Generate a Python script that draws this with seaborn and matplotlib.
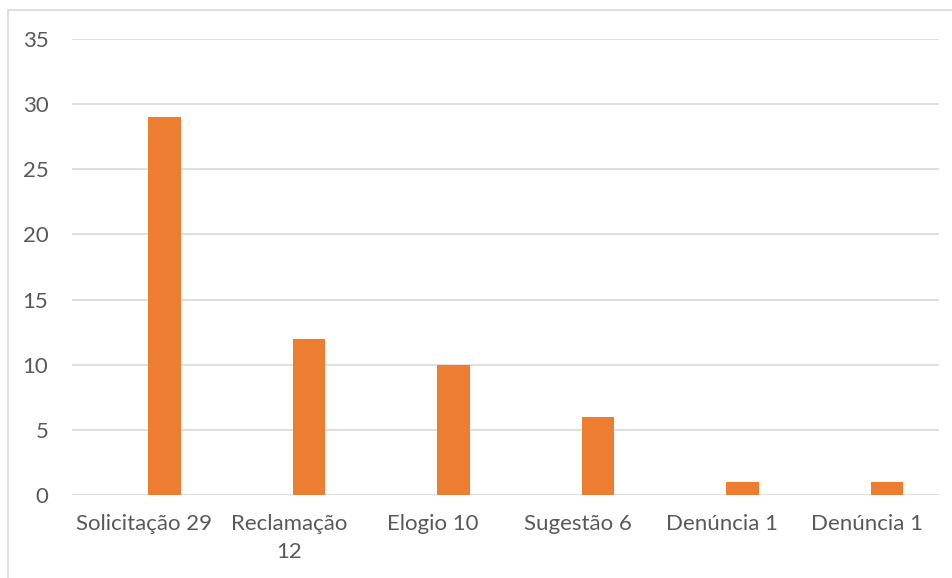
import pandas as pd
import matplotlib.pyplot as plt
import matplotlib.patches as mpatches
import seaborn as sns

# dados
categorias = ['Solicitação 29', 'Reclamação 12', 'Elogio 10', 'Sugestão 6', 'Denúncia 1', 'Denúncia 1 ']
rotulos = ['Solicitação 29', 'Reclamação\n12', 'Elogio 10', 'Sugestão 6', 'Denúncia 1', 'Denúncia 1']
quantidade = [29, 12, 10, 6, 1, 1]

# série vazia (o Excel reserva o espaço dela ao lado da barra)
df = pd.DataFrame({'categoria': categorias, 'valor': quantidade, 'serie': 'Quantidade'})
vazia = pd.DataFrame({'categoria': categorias, 'valor': [0] * len(categorias), 'serie': 'vazia'})
df = pd.concat([vazia, df], ignore_index=True)

sns.set_theme(style='white')
plt.rcParams['font.family'] = ['Lato', 'DejaVu Sans']

fig = plt.figure(figsize=(9.53, 5.78), dpi=100)
ax = fig.add_axes([72 / 953, 1 - 495 / 578, 867 / 953, 456 / 578])

sns.barplot(data=df, x='categoria', y='valor', hue='serie', hue_order=['vazia', 'Quantidade'],
            order=categorias, palette={'vazia': '#ffffff', 'Quantidade': '#ED7D31'},
            saturation=1, width=0.556, gap=0.187, legend=False, ax=ax, zorder=3,
            linewidth=0)

ax.set_ylim(0, 35)
ax.set_yticks(range(0, 36, 5))
ax.set_xlim(-0.5, len(categorias) - 0.5)
ax.set_xticks(range(len(categorias)))
ax.set_xticklabels(rotulos, linespacing=1.5)
ax.yaxis.grid(True, color='#d9d9d9', linewidth=1.2)
ax.set_axisbelow(True)
for s in ax.spines.values():
    s.set_visible(False)
ax.tick_params(axis='both', length=0, labelsize=16, colors='#595959')
ax.tick_params(axis='y', pad=17)
ax.tick_params(axis='x', pad=14)
ax.set_xlabel('')
ax.set_ylabel('')

# moldura do gráfico (cortada à direita e embaixo)
fig.patches.append(mpatches.Rectangle((8 / 953, -0.1), 1.1, 1 - 10 / 578 + 0.1, transform=fig.transFigure,
                                      fill=False, edgecolor='#d9d9d9', linewidth=1.2))

fig.savefig('out.png', dpi=100)
